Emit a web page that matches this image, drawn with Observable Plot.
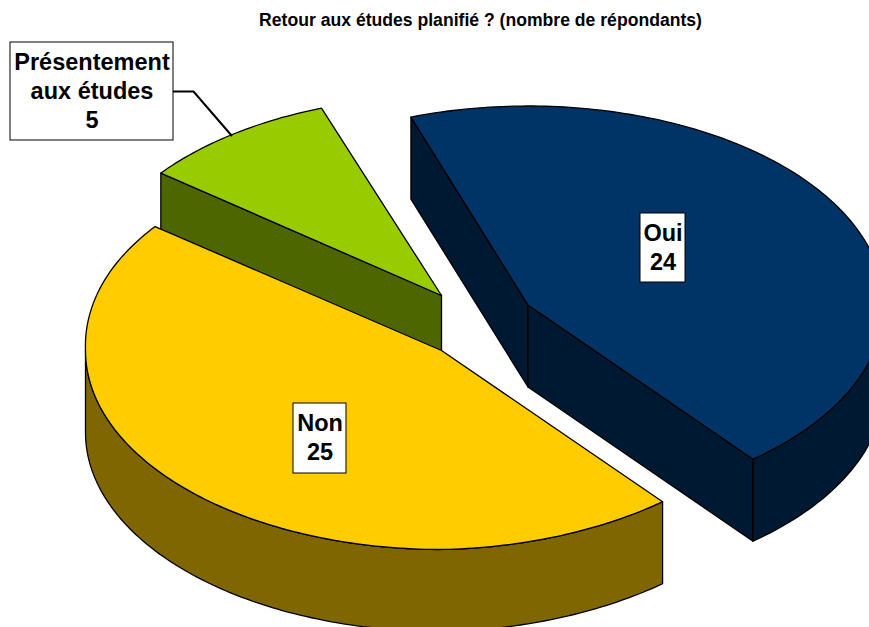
<!DOCTYPE html>
<html lang="fr">
<head>
<meta charset="utf-8">
<script src="https://cdn.jsdelivr.net/npm/d3@7"></script>
<script src="https://cdn.jsdelivr.net/npm/@observablehq/plot@0.6"></script>
<style>
html,body{margin:0;padding:0;background:#fff;overflow:hidden}
svg{display:block}
</style>
</head>
<body>
<div id="chart"></div>
<script>
const title = "Retour aux études planifié ? (nombre de répondants)";
const categories = ["Oui", "Présentement\naux études", "Non"];
const values = [24, 5, 25];
// pie order clockwise from the start angle: Oui, Non, Présentement
const pieOrder = [0, 2, 1];

const topColors = ["#003366", "#99CC00", "#FFCC00"];
const sideColors = ["#001933", "#4D6600", "#806600"];

// projection of the pie (tilted ellipse + thickness)
const W = 869, H = 627;
const rx = 356, ry = 199, depth = 82;
const startDeg = -109.2;
const tips = [[527.5, 304.5], [441, 295], [441, 350]];
const warp = [[0, 0], [0, 0], [4, 3]];      // perspective correction, px
const trimDeg = [0, 0.5, 0];                // perspective narrowing of a wedge
const labelBoxes = [[640, 213, 685, 282], [10, 42, 173, 140], [293, 403, 346, 473]];
const labelDy = -2;
const leader = [[173, 91], [193, 91], [231, 135]];

const rad = Math.PI / 180;
const arcs = d3.pie().sort(null).value(i => values[i])
  .startAngle(startDeg * rad).endAngle((startDeg + 360) * rad)(pieOrder);
const arcOf = i => {
  const a = arcs.find(a => a.data === i);
  return {startAngle: a.startAngle + trimDeg[i] * rad, endAngle: a.endAngle - trimDeg[i] * rad};
};

const rimPoint = (i, t, dz = 0) => {
  const w = Math.max(0, Math.sin(2 * t));
  return {
    x: tips[i][0] + rx * Math.cos(t) - warp[i][0] * w,
    y: tips[i][1] + ry * Math.sin(t) - warp[i][1] * w + dz
  };
};
const sweep = (i, a0, a1, dz = 0) => {
  const n = Math.max(2, Math.ceil((a1 - a0) / rad));
  return d3.range(n + 1).map(k => rimPoint(i, a0 + (a1 - a0) * k / n, dz));
};
const closed = p => [...p, p[0]];

function faces(i) {
  const {startAngle: a0, endAngle: a1} = arcOf(i);
  const tip = {x: tips[i][0], y: tips[i][1]};
  const tipLow = {x: tip.x, y: tip.y + depth};
  const out = [];
  if (Math.cos(a0) < 0) out.push({c: sideColors[i], p: closed([tip, rimPoint(i, a0), rimPoint(i, a0, depth), tipLow])});
  if (Math.cos(a1) > 0) out.push({c: sideColors[i], p: closed([tip, rimPoint(i, a1), rimPoint(i, a1, depth), tipLow])});
  // front-facing outer wall: the part of the arc between 0 and 180 degrees
  for (const k of [-2, 0, 2]) {
    const lo = Math.max(a0, k * Math.PI), hi = Math.min(a1, (k + 1) * Math.PI);
    if (hi > lo) out.push({c: sideColors[i], p: closed([...sweep(i, lo, hi), ...sweep(i, lo, hi, depth).reverse()])});
  }
  out.push({c: topColors[i], p: closed([tip, ...sweep(i, a0, a1)])});
  return out;
}

// painter's order: Oui, Présentement, Non
const faceMarks = [0, 1, 2].flatMap(faces).map(f =>
  Plot.line(f.p, {x: "x", y: "y", fill: f.c, stroke: "#000", strokeWidth: 1.3, strokeLinejoin: "round", clip: true})
);

const labels = categories.map((c, i) => ({
  text: `${c}\n${values[i]}`,
  x1: labelBoxes[i][0], y1: labelBoxes[i][1], x2: labelBoxes[i][2], y2: labelBoxes[i][3],
  x: (labelBoxes[i][0] + labelBoxes[i][2]) / 2,
  y: (labelBoxes[i][1] + labelBoxes[i][3]) / 2 + labelDy
}));

const font = "Liberation Sans, Arial, Helvetica, sans-serif";
const chart = Plot.plot({
  width: W, height: H,
  margin: 0,
  x: {domain: [0, W], range: [0, W], axis: null},
  y: {domain: [0, H], range: [0, H], axis: null},
  style: {background: "#fff", fontFamily: font},
  marks: [
    ...faceMarks,
    Plot.line(leader, {x: d => d[0], y: d => d[1], stroke: "#000", strokeWidth: 2}),
    Plot.rect(labels, {x1: "x1", x2: "x2", y1: "y1", y2: "y2", fill: "#fff", stroke: "#000", strokeWidth: 1}),
    Plot.text(labels, {x: "x", y: "y", text: "text", fontSize: 23.5, fontWeight: "bold", fill: "#000", lineHeight: 1.24, fontFamily: font}),
    Plot.text([title], {x: () => 480, y: () => 20, text: d => d, fontSize: 17.6, fontWeight: "bold", fill: "#000", fontFamily: font})
  ]
});
document.getElementById("chart").append(chart);
</script>
</body>
</html>
